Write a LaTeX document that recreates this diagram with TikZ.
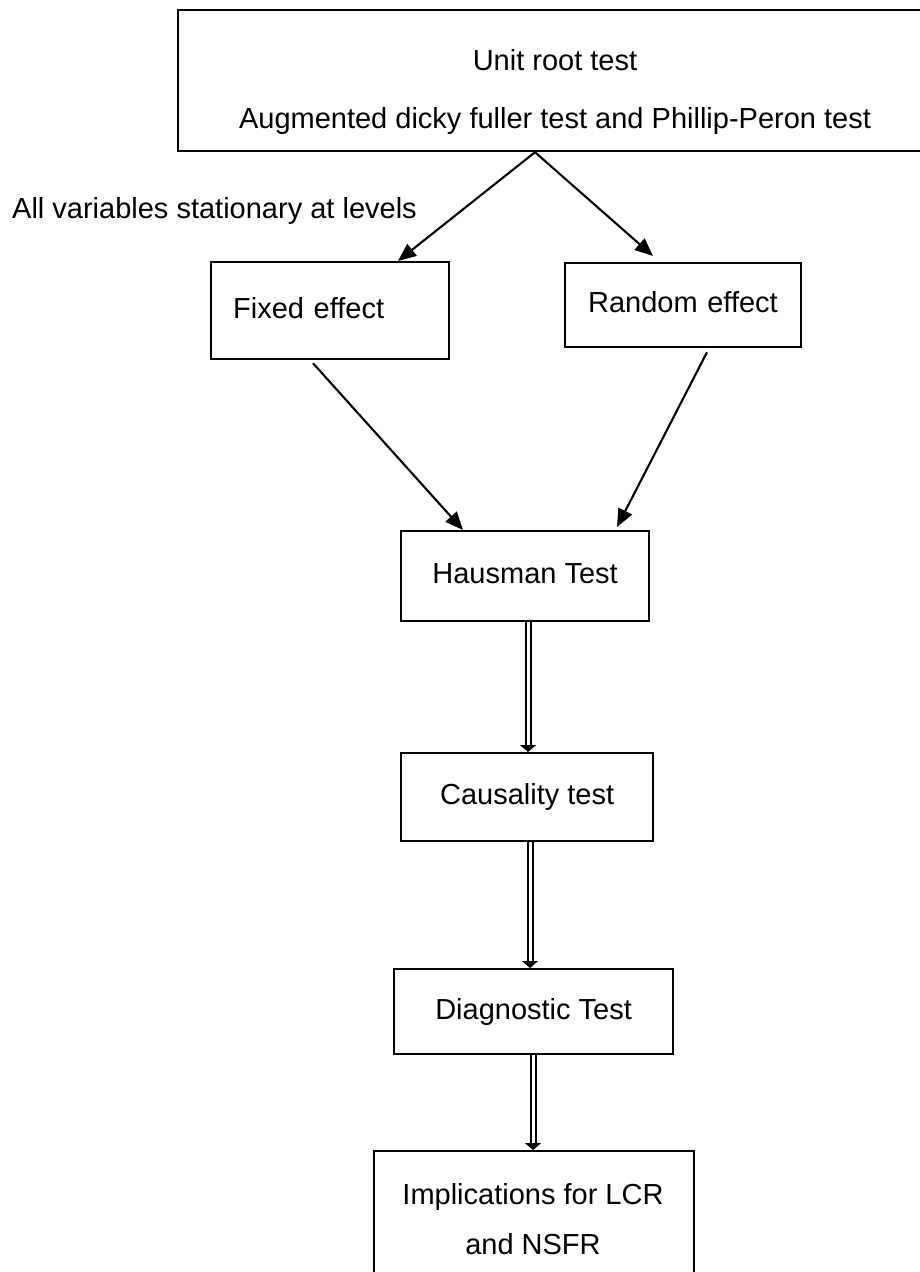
\documentclass[tikz,border=0pt]{standalone}
\usepackage{fontspec}
\setmainfont{Liberation Sans}
\usetikzlibrary{arrows.meta}
\begin{document}
\begin{tikzpicture}[x=1pt,y=-1pt,
  every node/.style={font=\fontsize{29}{50}\selectfont},
  box/.style={draw=black, line width=2.2pt, rectangle, inner sep=0pt, anchor=north west,
    text height=21pt, text depth=6pt, align=center},
  plain/.style={inner sep=0pt, anchor=base},
  arr/.style={draw=black, line width=2.1pt, -{Triangle[length=18pt,width=15pt]}},
  dbl/.style={draw=black, line width=2pt, double=white, double distance=3pt,
    -{Triangle[length=7pt,width=16pt]}}
]
\useasboundingbox (0,0) rectangle (920,1272);
\clip (0,0) rectangle (920,1272);

% top box
\node[box, minimum width=756pt, minimum height=141pt] (top) at (177,9) {};
\node[plain] (t1) at (555,70) {Unit root test};
\node[plain] (t2) at (555,128) {Augmented dicky fuller test and Phillip-Peron test};

\node[plain, anchor=base west] (lab) at (12,218) {All variables stationary at levels};

% fixed and random
\node[box, minimum width=238pt, minimum height=97pt, inner xsep=22pt, text width=194pt, align=left] (fixed) at (210,261) {Fixed effect};
\node[box, minimum width=236pt, minimum height=84pt, inner xsep=23pt, text width=190pt, align=left] (random) at (564,262) {Random effect};

% hausman etc.
\node[box, minimum width=248pt, minimum height=90pt] (haus) at (400,530) {Hausman Test};
\node[box, minimum width=252pt, minimum height=88pt] (caus) at (400,752) {Causality test};
\node[box, minimum width=279pt, minimum height=85pt] (diag) at (393,968) {Diagnostic Test};
\node[box, minimum width=320pt, minimum height=200pt] (impl) at (373,1150) {};
\node[plain] (i1) at (533,1204) {Implications for LCR};
\node[plain] (i2) at (533,1254) {and NSFR};

% arrows
\coordinate (apex) at ([xshift=358pt]top.south west);
\draw[arr] (apex) -- ([xshift=188pt]fixed.north west);
\draw[arr] (apex) -- ([xshift=89pt,yshift=6pt]random.north west);
\draw[arr] ([xshift=103pt,yshift=-3pt]fixed.south west) -- ([xshift=63pt]haus.north west);
\draw[arr] ([xshift=143pt,yshift=-4pt]random.south west) -- ([xshift=217pt,yshift=3pt]haus.north west);

\draw[dbl] ([xshift=128pt]haus.south west) -- ([xshift=128pt]caus.north west);
\draw[dbl] ([xshift=130pt]caus.south west) -- ([xshift=137pt]diag.north west);
\draw[dbl] ([xshift=140pt]diag.south west) -- ([xshift=160pt]impl.north west);
\end{tikzpicture}
\end{document}
